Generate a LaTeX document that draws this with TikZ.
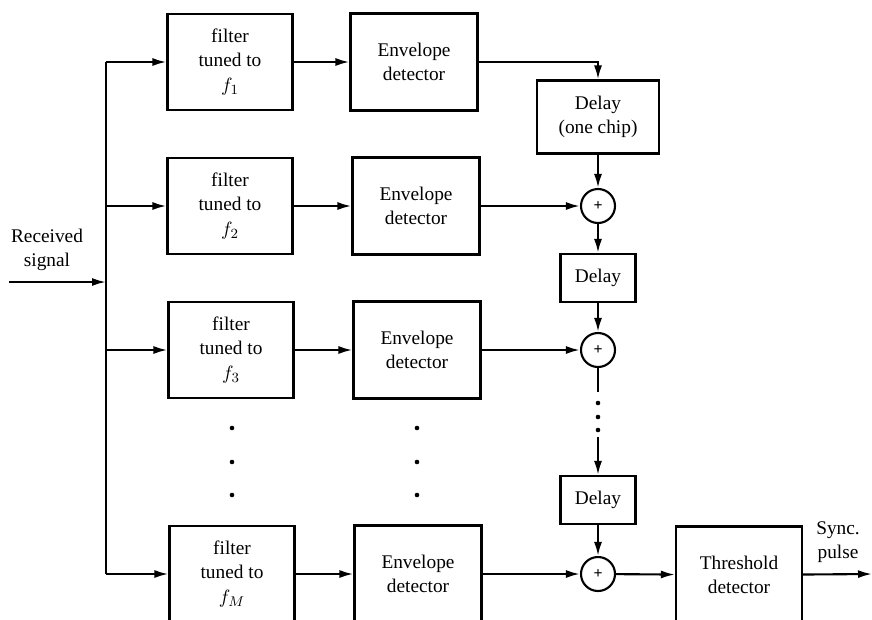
\documentclass[tikz,border=0pt]{standalone}
\usepackage{fontspec}
\setmainfont{Liberation Serif}
\usetikzlibrary{arrows.meta}

\begin{document}
\begin{tikzpicture}[x=0.02cm, y=-0.02cm,
    sig/.style={-{Latex[length=2.8mm,width=1.6mm]}, line width=1.2pt},
    wire/.style={line width=1.2pt},
    block/.style={draw, line width=1.2pt, align=center, inner sep=2pt,
      font=\fontsize{11}{14}\selectfont},
    filterbox/.style={block, minimum width=2.5cm, minimum height=1.92cm},
    envbox/.style={block, minimum width=2.54cm, minimum height=1.94cm},
    delaybox/.style={block, minimum width=1.5cm, minimum height=0.96cm},
    adder/.style={circle, draw, line width=1.2pt, minimum size=0.68cm, inner sep=0pt,
      font=\small\bfseries},
    dotmark/.style={circle, fill=black, inner sep=0pt, minimum size=2.6pt},
    lbl/.style={align=center, font=\fontsize{11}{13.5}\selectfont}]
  \useasboundingbox (0,0) rectangle (872,619);
  \clip (0,0) rectangle (872,619);

  \node[filterbox] (f1) at (230,62)  {filter\\tuned to\\$f_1$};
  \node[filterbox] (f2) at (230,206) {filter\\tuned to\\$f_2$};
  \node[filterbox] (f3) at (231,350) {filter\\tuned to\\$f_3$};
  \node[filterbox] (fM) at (232,574) {filter\\tuned to\\$f_M$};

  \node[envbox] (e1) at (414,62)  {Envelope\\detector};
  \node[envbox] (e2) at (416,206) {Envelope\\detector};
  \node[envbox] (e3) at (417,350) {Envelope\\detector};
  \node[envbox] (eM) at (418,574) {Envelope\\detector};

  \node[block, minimum width=2.44cm, minimum height=1.46cm] (d1) at (598,117) {Delay\\(one chip)};
  \node[adder] (s1) at (598,206) {+};
  \node[delaybox] (d2) at (598,278) {Delay};
  \node[adder] (s2) at (598,350) {+};
  \node[delaybox] (d3) at (598,500) {Delay};
  \node[adder] (s3) at (598,574) {+};
  \node[block, minimum width=2.52cm, minimum height=1.94cm] (th) at (739,575) {Threshold\\detector};

  \node[lbl] (rx) at (47,250) {Received\\signal};
  \node[lbl] (sync) at (838,542) {Sync.\\pulse};

  \coordinate (in) at (9,282);
  \coordinate (join) at (106,282);
  \coordinate (bustop) at (106,62);
  \coordinate (busbot) at (106,574);
  \coordinate (out) at (872,574);
  \coordinate (chainA) at (598,392);
  \coordinate (chainB) at (598,437);

  \draw[sig] (in) -- (join);
  \draw[wire] (bustop) -- (busbot);
  \foreach \r/\y in {1/62, 2/206, 3/350, M/574} {
    \coordinate (b\r) at (106,\y);
    \draw[sig] (b\r) -- (f\r);
    \draw[sig] (f\r) -- (e\r);
  }

  \draw[sig] (e1.east) -| (d1.north);
  \draw[sig] (d1) -- (s1);
  \draw[sig] (e2) -- (s1);
  \draw[sig] (s1) -- (d2);
  \draw[sig] (d2) -- (s2);
  \draw[sig] (e3) -- (s2);
  \draw[wire] (s2) -- (chainA);
  \draw[sig] (chainB) -- (d3);
  \draw[sig] (d3) -- (s3);
  \draw[sig] (eM) -- (s3);
  \draw[sig] (s3) -- (th);
  \draw[sig] (th) -- (out);

  \foreach \y in {428,462,495} {
    \node[dotmark] (fd\y) at (232,\y) {};
    \node[dotmark] (ed\y) at (417,\y) {};
  }
  \foreach \y in {403,417,430}
    \node[dotmark] (cd\y) at (598,\y) {};
\end{tikzpicture}
\end{document}
